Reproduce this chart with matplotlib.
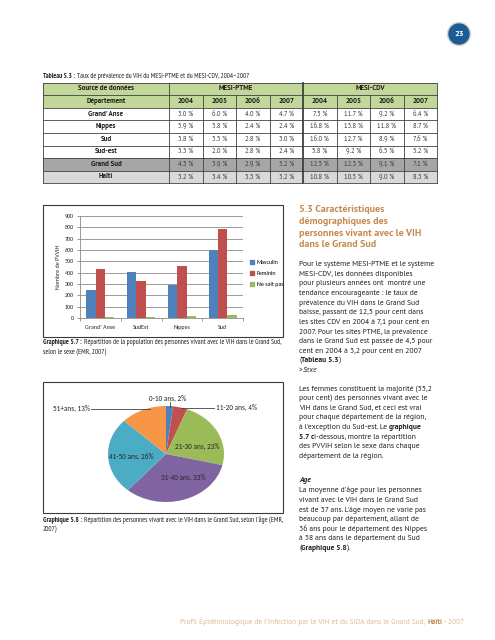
import matplotlib
matplotlib.use('Agg')
import matplotlib.pyplot as plt
import matplotlib.font_manager as fm
from matplotlib.patches import Rectangle, Circle, Patch
import numpy as np

# ---------------- data ----------------
years = ['2004', '2005', '2006', '2007']
departments = ["Grand' Anse", 'Nippes', 'Sud', 'Sud-est', 'Grand Sud', 'Haïti']
ptme = [[3.0, 6.0, 4.0, 4.7],
        [5.9, 3.8, 2.4, 2.4],
        [3.8, 3.5, 2.8, 3.0],
        [3.3, 2.0, 2.8, 2.4],
        [4.5, 3.9, 2.9, 3.2],
        [3.2, 3.4, 3.3, 3.2]]
cdv = [[7.5, 11.7, 9.2, 6.4],
       [16.8, 13.8, 11.8, 8.7],
       [16.0, 12.7, 8.9, 7.6],
       [5.8, 9.2, 6.5, 5.2],
       [12.5, 12.3, 9.1, 7.1],
       [10.8, 10.5, 9.0, 8.3]]

bar_categories = ["Grand' Anse", 'SudEst', 'Nippes', 'Sud']
series_names = ['Masculin', 'Feminin', 'Ne sait pas']
masculin = [245, 410, 290, 600]
feminin = [430, 330, 455, 785]
ne_sait_pas = [5, 5, 20, 30]

age_labels = ['0-10 ans', '11-20 ans', '21-30 ans', '31-40 ans', '41-50 ans', '51+ans']
age_pct = [2, 4, 23, 33, 26, 13]

# ---------------- setup ----------------
W, H = 495, 640
fig = plt.figure(figsize=(W / 100, H / 100), dpi=100)
fig.patch.set_facecolor('white')
bg = fig.add_axes([0, 0, 1, 1])
bg.set_xlim(0, W)
bg.set_ylim(H, 0)
bg.axis('off')
bg.set_zorder(10)
R = fig.canvas.get_renderer()


def _w(f):
    w = f.weight
    if isinstance(w, str):
        w = fm.weight_dict.get(w, 400)
    return int(w)


faces = {}
for f in fm.fontManager.ttflist:
    faces.setdefault(f.name, set()).add((_w(f), f.style))


def good(name):
    s = faces.get(name, set())
    return (400, 'normal') in s and (700, 'normal') in s


def pick(prefs, default='DejaVu Sans'):
    for p in prefs:
        if good(p):
            return p
    for p in prefs:
        if p in faces:
            return p
    return default


BODY = pick(['Source Sans 3', 'Source Sans Pro', 'PT Sans', 'Fira Sans', 'Open Sans', 'Noto Sans'])
COND = pick(['PT Sans Narrow', 'Fira Sans Condensed', 'Asap Condensed', 'Roboto Condensed',
             'Liberation Sans Narrow', 'Noto Sans'])
CHART = pick(['Carlito', 'Lato', 'Open Sans'])
TXT = '#231f20'


def px_rect(l, t, r, b):
    return [l / W, 1 - b / H, (r - l) / W, (b - t) / H]


def rich(x, y, parts, size, family, color=TXT, width=None, ha='left', gap=0.27):
    def draw(sz):
        arts = []
        cx = x
        for i, (txt, kw) in enumerate(parts):
            if i > 0 and kw.get('space', True):
                cx += gap * sz * 100 / 72
            t = bg.text(cx, y, txt, fontsize=sz, family=kw.get('family', family),
                        fontweight=kw.get('weight', 'normal'),
                        fontstyle=kw.get('style', 'normal'),
                        color=kw.get('color', color), ha='left', va='center')
            cx += t.get_window_extent(R).width
            arts.append(t)
        return arts, cx - x
    arts, w = draw(size)
    if width is not None:
        for a in arts:
            a.remove()
        size = size * width / w
        arts, w = draw(size)
    if ha == 'center':
        for a in arts:
            a.set_x(a.get_position()[0] - w / 2)
    return size


def measure(text, size, family, weight='normal'):
    t = bg.text(0, 0, text, fontsize=size, family=family, fontweight=weight)
    w = t.get_window_extent(R).width
    t.remove()
    return w


# ---------------- page marker ----------------
bg.add_patch(Circle((459, 34), 11.5, color='#d6d6d6', zorder=2))
bg.add_patch(Circle((459, 34), 10, color='#1b5c93', zorder=3))
bg.text(459, 34.5, '23', color='white', fontsize=6, fontweight='bold', family=BODY,
        ha='center', va='center', zorder=4)

# ---------------- table ----------------
rich(43, 76.5, [('Tableau 5.3 :', {'weight': 'bold'}),
                ('Taux de prévalence du VIH du MESI-PTME et du MESI-CDV, 2004–2007', {})],
     5, COND, width=209)

col_edges = [43] + [169 + 33.5 * i for i in range(9)]
row_top, row_h = 82.5, 12.6
row_edges = [row_top + row_h * i for i in range(9)]
fills = ['#c4d79b', '#c4d79b', 'white', 'white', 'white', 'white', '#a6a6a6', '#d9d9d9']
for r in range(8):
    bg.add_patch(Rectangle((col_edges[0], row_edges[r]), col_edges[-1] - col_edges[0], row_h,
                           facecolor=fills[r], edgecolor='none', zorder=1))
LC = '#404040'
for yy in row_edges:
    bg.plot([col_edges[0], col_edges[-1]], [yy, yy], color=LC, lw=0.6, zorder=2)
for i, xx in enumerate(col_edges):
    lw = 1.3 if i == 5 else 0.6
    top = row_edges[0] if i in (0, 1, 5, 9) else row_edges[1]
    bg.plot([xx, xx], [top, row_edges[-1]], color=LC, lw=lw, zorder=2)

TS = 5.0


def cell_center(c):
    return (col_edges[c] + col_edges[c + 1]) / 2


def row_center(r):
    return row_edges[r] + row_h / 2


HK = dict(fontsize=TS, fontweight='bold', family=BODY, ha='center', va='center',
          color='#1a1a1a', zorder=3)
bg.text(cell_center(0), row_center(0), 'Source de données', **HK)
bg.text((col_edges[1] + col_edges[5]) / 2, row_center(0), 'MESI-PTME', **HK)
bg.text((col_edges[5] + col_edges[9]) / 2, row_center(0), 'MESI-CDV', **HK)
bg.text(cell_center(0), row_center(1), 'Département', **HK)
for k, yr in enumerate(years + years):
    bg.text(cell_center(k + 1), row_center(1), yr, **HK)
for r, dep in enumerate(departments):
    bg.text(cell_center(0), row_center(r + 2), dep, **HK)
    vals = ptme[r] + cdv[r]
    for k, v in enumerate(vals):
        bg.text(cell_center(k + 1), row_center(r + 2), f'{v:.1f} %', fontsize=TS - 0.3,
                family=BODY, ha='center', va='center', color='#3a3a3a', zorder=3)

# ---------------- bar chart ----------------
bg.add_patch(Rectangle((43, 205), 240, 132, facecolor='none', edgecolor='#3a3a3a', lw=0.8))
axb = fig.add_axes(px_rect(80, 216, 243, 318))
bar_colors = ['#4f81bd', '#c0504d', '#9bbb59']
xpos = np.arange(len(bar_categories))
bw = 0.227
for i, (vals, col, lab) in enumerate(zip([masculin, feminin, ne_sait_pas], bar_colors, series_names)):
    axb.bar(xpos + (i - 1) * bw, vals, bw, color=col, label=lab, zorder=3)
axb.set_ylim(0, 900)
axb.set_xlim(-0.5, 3.5)
axb.set_yticks(range(0, 901, 100))
axb.yaxis.grid(True, color='#8c8c8c', lw=0.6, zorder=0)
axb.set_axisbelow(True)
axb.set_xticks(xpos)
axb.set_xticklabels(bar_categories)
axb.set_xticks(np.arange(-0.5, 4, 1), minor=True)
axb.tick_params(axis='x', which='major', length=0, pad=5, labelsize=4.3, labelcolor='#262626')
axb.tick_params(axis='x', which='minor', length=2.5, color='#8c8c8c', width=0.6)
axb.tick_params(axis='y', labelsize=4.3, length=2.5, color='#8c8c8c', width=0.6, pad=2,
                labelcolor='#262626')
for lab in axb.get_xticklabels() + axb.get_yticklabels():
    lab.set_family(CHART)
for s in ['top', 'right']:
    axb.spines[s].set_visible(False)
for s in ['left', 'bottom']:
    axb.spines[s].set_color('#8c8c8c')
    axb.spines[s].set_linewidth(0.6)
axb.set_facecolor('none')
bg.text(58, 267, 'Nombre de PVVIH', rotation=90, fontsize=4.3, family=CHART, ha='center',
        va='center', color='#262626')
handles = [Patch(color=c) for c in bar_colors]
fig.legend(handles, series_names, loc='center left', bbox_to_anchor=(250 / W, 1 - 273.5 / H),
           frameon=False, prop={'family': CHART, 'size': 4.3}, handlelength=0.7,
           handleheight=0.7, handletextpad=0.4, labelspacing=0.95, borderpad=0,
           borderaxespad=0)

cs = rich(43, 343, [('Graphique 5.7 :', {'weight': 'bold'}),
                    ('Répartition de la population des personnes vivant avec le VIH dans le Grand Sud,', {})],
          5, COND, width=242)
rich(43, 352.5, [('selon le sexe (EMR, 2007)', {})], cs, COND)

# ---------------- pie chart ----------------
bg.add_patch(Rectangle((43, 382), 240, 131, facecolor='none', edgecolor='#3a3a3a', lw=0.8))
axp = fig.add_axes(px_rect(108, 406, 224, 502))
pie_colors = ['#4f81bd', '#c0504d', '#9bbb59', '#8064a2', '#4bacc6', '#f79646']
axp.pie(age_pct, colors=pie_colors, startangle=90, counterclock=False, radius=1,
        wedgeprops=dict(linewidth=0))
axp.set_aspect('auto')
axp.set_xlim(-1, 1)
axp.set_ylim(-1, 1)

PL = dict(fontsize=5.2, family=CHART, color='#262626')
lab = {a: f'{a}, {p}%' for a, p in zip(age_labels, age_pct)}
bg.text(168, 398, lab['0-10 ans'], ha='center', va='center', **PL)
bg.text(216, 407.5, lab['11-20 ans'], ha='left', va='center', **PL)
bg.text(90, 408, lab['51+ans'], ha='right', va='center', **PL)
bg.text(197, 446, lab['21-30 ans'], ha='center', va='center', **PL)
bg.text(131, 456, lab['41-50 ans'], ha='center', va='center', **PL)
bg.text(183, 477, lab['31-40 ans'], ha='center', va='center', **PL)
bg.plot([170, 170], [401.5, 406.5], color='#404040', lw=0.6)
bg.plot([181, 214], [408, 408], color='#404040', lw=0.6)
bg.plot([91, 150], [409, 409], color='#404040', lw=0.6)

cs = rich(43, 520, [('Graphique 5.8 :', {'weight': 'bold'}),
                    ("Répartition des personnes vivant avec le VIH dans le Grand Sud, selon l'âge (EMR,", {})],
          5, COND, width=244)
rich(43, 529.5, [('2007)', {})], cs, COND)

# ---------------- right column ----------------
HC = '#c68a4c'
heading = ['5.3 Caractéristiques', 'démographiques des', 'personnes vivant avec le VIH',
           'dans le Grand Sud']
hs = 7.5 * 122 / measure(heading[2], 7.5, BODY, 'bold')
for i, line in enumerate(heading):
    bg.text(299, 209.5 + 11.8 * i, line, fontsize=hs, fontweight='bold', family=BODY,
            color=HC, ha='left', va='center')

bs = 6 * 138 / measure('Pour le système MESI-PTME et le système', 6, BODY)
LS = 9.65
para1 = [
    [('Pour le système MESI-PTME et le système', {})],
    [('MESI-CDV, les données disponibles', {})],
    [('pour plusieurs années ont  montré une', {})],
    [('tendance encourageante : le taux de', {})],
    [('prévalence du VIH dans le Grand Sud', {})],
    [('baisse, passant de 12,5 pour cent dans', {})],
    [('les sites CDV en 2004 à 7,1 pour cent en', {})],
    [('2007. Pour les sites PTME, la prévalence', {})],
    [('dans le Grand Sud est passée de 4,5 pour', {})],
    [('cent en 2004 à 3,2 pour cent en 2007', {})],
    [('(', {}), ('Tableau 5.3', {'weight': 'bold', 'space': False}), (')', {'space': False})],
    [('>', {}), ('Sexe', {'style': 'italic', 'space': False})],
]
para2 = [
    [('Les femmes constituent la majorité (55,2', {})],
    [('pour cent) des personnes vivant avec le', {})],
    [('VIH dans le Grand Sud, et ceci est vrai', {})],
    [('pour chaque département de la région,', {})],
    [("à l'exception du Sud-est. Le", {}), ('graphique', {'weight': 'bold'})],
    [('5.7 c', {'weight': 'bold'}), ('i-dessous, montre la répartition', {'space': False})],
    [('des PVVIH selon le sexe dans chaque', {})],
    [('département de la région.', {})],
]
para3 = [
    [('Age', {'weight': 'bold', 'style': 'italic'})],
    [("La moyenne d'âge pour les personnes", {})],
    [('vivant avec le VIH dans le Grand Sud', {})],
    [("est de 37 ans. L'âge moyen ne varie pas", {})],
    [('beaucoup par département, allant de', {})],
    [('36 ans pour le département des Nippes', {})],
    [('à 38 ans dans le département du Sud', {})],
    [('(', {}), ('Graphique 5.8', {'weight': 'bold', 'space': False}), (').', {'space': False})],
]
for start, para in [(264.5, para1), (389, para2), (481, para3)]:
    for i, parts in enumerate(para):
        rich(299, start + LS * i, parts, bs, BODY)

# ---------------- footer ----------------
rich(180, 622, [("Profil Épidémiologique de l'Infection par le VIH et du SIDA dans le Grand Sud,", {}),
                ('Haïti', {'weight': 'bold', 'color': '#c98a4c'}), ('- 2007', {})],
     5, BODY, color='#e0b98f', width=287)

fig.savefig('out.png', dpi=100, facecolor='white')
